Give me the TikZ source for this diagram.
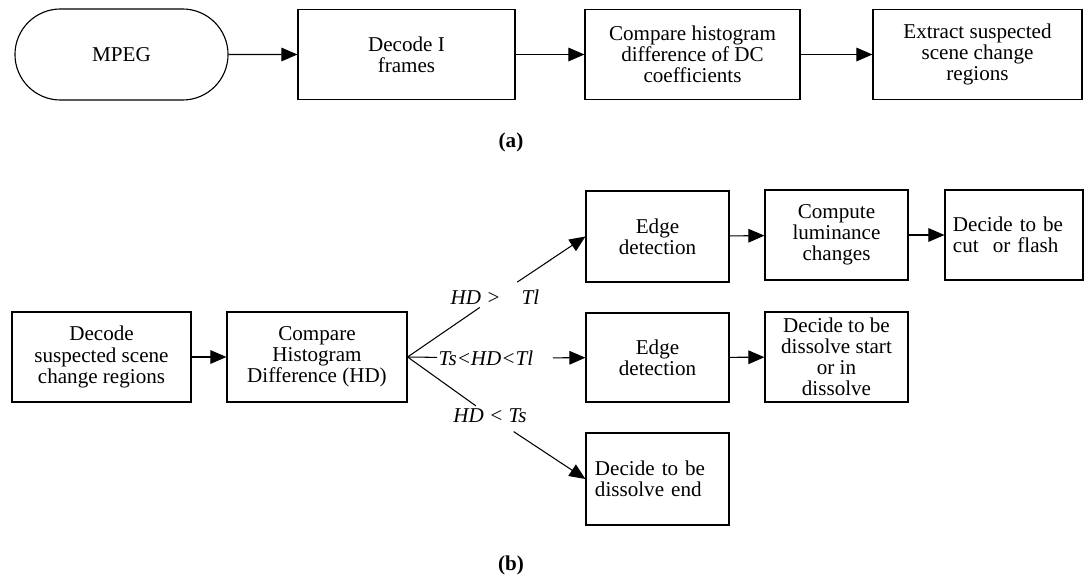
\documentclass[tikz,border=0pt]{standalone}
\usepackage{fontspec}
\setmainfont{Liberation Serif}
\usetikzlibrary{arrows.meta,shapes.misc}

\begin{document}
\begin{tikzpicture}[x=0.025cm,y=-0.025cm,
  every node/.style={font=\fontsize{15}{15}\selectfont},
  box/.style={draw,line width=0.8pt,align=center,inner sep=0pt,minimum height=2.25cm},
  cond/.style={font=\fontsize{15}{15}\selectfont\itshape,inner sep=2pt},
  flow/.style={line width=0.75pt,-{Triangle[length=4mm,width=3.4mm]}}]
  \useasboundingbox (0,0) rectangle (1085,577);
  % (a)
  \node [box,rounded rectangle,minimum width=5.325cm,minimum height=2.275cm] (mpeg) at (121.5,54.5) {MPEG};
  \node [box,minimum width=5.425cm] (decI) at (406.5,54.5) {Decode I\\frames};
  \node [box,minimum width=5.375cm] (cmpdc) at (692.5,54.5) {Compare histogram\\difference of DC\\coefficients};
  \node [box,minimum width=5.225cm] (extr) at (977.5,54.5) {Extract suspected\\scene change\\regions};
  \node [font=\fontsize{15}{15}\selectfont\bfseries] (capa) at (511,142) {(a)};
  \draw [flow] (mpeg) -- (decI);
  \draw [flow] (decI) -- (cmpdc);
  \draw [flow] (cmpdc) -- (extr);
  % (b)
  \node [box,minimum width=4.475cm] (decsc) at (101.5,357) {Decode\\suspected scene\\change regions};
  \node [box,minimum width=4.5cm] (cmphd) at (317,357) {Compare\\Histogram\\Difference (HD)};
  \node [box,minimum width=3.575cm,minimum height=2.275cm] (edgeA) at (657.5,236.5) {Edge\\detection};
  \node [box,minimum width=3.575cm] (lum) at (836.5,235) {Compute\\luminance\\changes};
  \node [box,minimum width=3.45cm,align=left,inner xsep=0.2cm,text width=3.05cm] (cut) at (1014,235) {Decide to be\\cut\ \ or flash};
  \node [box,minimum width=3.575cm,minimum height=2.225cm] (edgeB) at (657.5,357.5) {Edge\\detection};
  \node [box,minimum width=3.575cm] (dst) at (836.5,357) {Decide to be\\dissolve start\\or in\\dissolve};
  \node [box,minimum width=3.575cm,minimum height=2.3cm,align=left,inner xsep=0.225cm,text width=3.125cm] (dend) at (657.5,479) {Decide to be\\dissolve end};
  \node [font=\fontsize{15}{15}\selectfont\bfseries] (capb) at (511,565) {(b)};
  \node [cond] (hi) at (495,297) {HD >\hspace{1em}Tl};
  \node [cond,inner sep=1pt] (mid) at (486,358) {Ts<HD<Tl};
  \node [cond] (lo) at (490,416) {HD < Ts};
  \draw [flow] (decsc) -- (cmphd);
  \draw [line width=0.75pt] (cmphd.east) -- (hi);
  \draw [flow,shorten <=0.2cm] (hi) -- (edgeA.west);
  \draw [line width=0.75pt] (cmphd.east) -- (mid);
  \draw [flow,shorten <=0.45cm] (mid) -- (edgeB);
  \draw [line width=0.75pt] (cmphd.east) -- (lo);
  \draw [flow,shorten <=0.25cm] (lo) -- (dend.west);
  \draw [flow] (edgeA) -- (lum);
  \draw [flow] (lum) -- (cut);
  \draw [flow] (edgeB) -- (dst);
\end{tikzpicture}
\end{document}
